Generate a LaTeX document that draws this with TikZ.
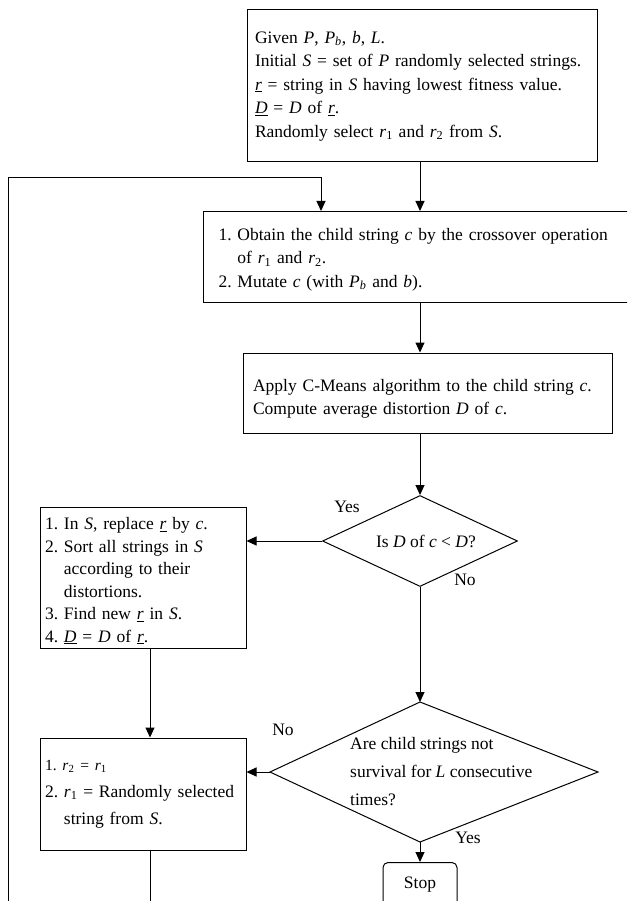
\documentclass[tikz,border=0pt]{standalone}
\usepackage{fontspec}
\setmainfont{Liberation Serif}
\usetikzlibrary{shapes.geometric,arrows.meta}
\newcommand{\vi}[1]{\textit{#1}}
\newcommand{\ul}[1]{\underline{\textit{#1}}}
\newcommand{\vsub}[2]{\textit{#1}\textsubscript{#2}}
\frenchspacing
\hyphenpenalty=10000
\begin{document}
\begin{tikzpicture}[x=1pt,y=-1pt,
  every node/.style={font=\fontsize{17.5}{23.5}\selectfont},
  box/.style={draw, line width=1pt, align=left, inner ysep=0pt},
  arr/.style={-{Triangle[length=10pt,width=9pt]}, line width=1pt},
  ln/.style={line width=1pt},
  lbl/.style={inner sep=0pt}]
\useasboundingbox (0,0) rectangle (627,901);
\clip (0,0) rectangle (627,901);

\node[box, text width=334pt, inner xsep=8pt, minimum height=152pt] (init) at (422,86)
 {Given \vi{P}, \vsub{P}{\vi{b}}, \vi{b}, \vi{L}.\\
  Initial \vi{S} = set of \vi{P} randomly selected strings.\\
  \ul{r} = string in \vi{S} having lowest fitness value.\\
  \ul{D} = \vi{D} of \ul{r}.\\
  Randomly select \vsub{r}{1} and \vsub{r}{2} from \vi{S}.};

\node[box, anchor=north west, text width=430pt, inner xsep=15pt, minimum height=91pt] (cross) at (203,211)
 {\rule{0pt}{17pt}1. Obtain the child string \vi{c} by the crossover operation\\
  \hphantom{1. }of \vsub{r}{1} and \vsub{r}{2}.\\
  2. Mutate \vi{c} (with \vsub{P}{\vi{b}} and \vi{b}).};

\node[box, text width=349pt, inner xsep=10pt, minimum height=80pt] (cmeans) at (427.5,393)
 {\rule{0pt}{24pt}Apply C-Means algorithm to the child string \vi{c}.\\
  Compute average distortion \vi{D} of \vi{c}.};

\node[draw, line width=1pt, shape=diamond, aspect=2.14, minimum width=195pt, minimum height=91pt, inner sep=0pt] (test1) at (420,541)
 {\hspace*{12pt}Is \vi{D} of \vi{c} < \vi{D}?};

\node[box, text width=196pt, inner xsep=5pt, minimum height=141pt, font=\fontsize{17.5}{22.5}\selectfont] (update) at (143,578)
 {\rule{0pt}{18pt}1. In \vi{S}, replace \ul{r} by \vi{c}.\\
  2. Sort all strings in \vi{S}\\
  \hphantom{2. }according to their\\
  \hphantom{2. }distortions.\\
  3. Find new \ul{r} in \vi{S}.\\
  4. \ul{D} = \vi{D} of \ul{r}.};

\node[box, text width=196pt, inner xsep=5pt, minimum height=112pt, font=\fontsize{17.5}{27}\selectfont] (shift) at (143,794)
 {{\fontsize{15.5}{17}\selectfont 1. \vsub{r}{2} = \vsub{r}{1}}\\
  2. \vsub{r}{1} = Randomly selected\\
  \hphantom{2. }string from \vi{S}.};

\coordinate (d2t) at (420,702);
\coordinate (d2r) at (598,772);
\coordinate (d2b) at (420,842);
\coordinate (d2l) at (270,772);
\draw[ln] (d2t) -- (d2r) -- (d2b) -- (d2l) -- cycle;
\node[align=left, anchor=west, inner sep=0pt, font=\fontsize{17.5}{28}\selectfont] (test2) at (350,772)
 {Are child strings not\\ survival for \vi{L} consecutive\\ times?};

\node[draw, line width=1pt, rounded corners=5pt, minimum width=74pt, minimum height=45pt, anchor=north] (stop) at (420,862) {Stop};

\node[lbl] (yes1) at (347,507) {Yes};
\node[lbl] (no1) at (465,580) {No};
\node[lbl] (no2) at (283,730) {No};
\node[lbl] (yes2) at (468,838) {Yes};

\coordinate (loopin) at (321,178);
\coordinate (loopbot) at (8,905);
\coordinate (shiftbot) at (150,905);

\draw[arr] (init.south -| test1) -- (test1 |- cross.north);
\draw[arr] (loopbot) |- (loopin) -- (loopin |- cross.north);
\draw[arr] (cross.south -| test1) -- (test1 |- cmeans.north);
\draw[arr] (cmeans.south -| test1) -- (test1.north);
\draw[arr] (test1.west) -- (test1.west -| update.east);
\draw[arr] (test1.south) -- (d2t);
\draw[arr] (update.south -| shiftbot) -- (shift.north -| shiftbot);
\draw[arr] (d2l) -- (d2l -| shift.east);
\draw[arr] (d2b) -- (stop.north);
\draw[ln] (shift.south -| shiftbot) -- (shiftbot);
\end{tikzpicture}
\end{document}
